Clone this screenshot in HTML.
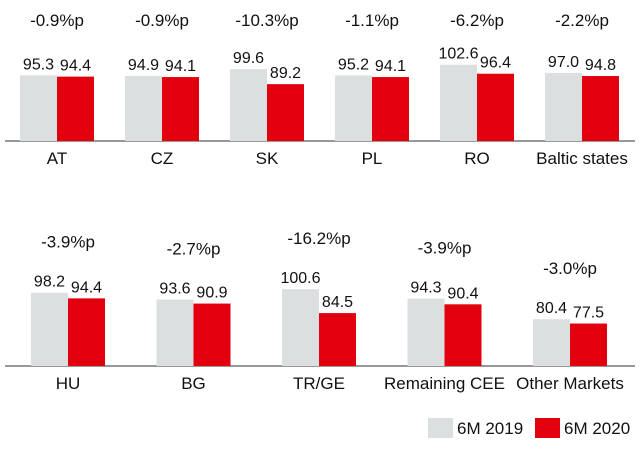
<!DOCTYPE html>
<html><head><meta charset="utf-8"><style>
body{margin:0;background:#fff;font-family:"Liberation Sans",sans-serif}
svg text{font-family:"Liberation Sans",sans-serif;fill:#111}
</style></head><body>
<svg id="c" width="640" height="447"></svg>
<script>
const topCats=["AT","CZ","SK","PL","RO","Baltic states"];
const top2019=[95.3,94.9,99.6,95.2,102.6,97.0];
const top2020=[94.4,94.1,89.2,94.1,96.4,94.8];
const topDelta=["-0.9%p","-0.9%p","-10.3%p","-1.1%p","-6.2%p","-2.2%p"];
const botCats=["HU","BG","TR/GE","Remaining CEE","Other Markets"];
const bot2019=[98.2,93.6,100.6,94.3,80.4];
const bot2020=[94.4,90.9,84.5,90.4,77.5];
const botDelta=["-3.9%p","-2.7%p","-16.2%p","-3.9%p","-3.0%p"];
const NS="http://www.w3.org/2000/svg",svg=document.getElementById('c');
function mk(t,a,txt){const e=document.createElementNS(NS,t);for(const k in a)e.setAttribute(k,a[k]);if(txt!==undefined)e.textContent=txt;svg.appendChild(e);return e;}
function row(cats,a,b,d,base,x0,step,min,scale,deltaFixed){
  const y=v=>base-(v-min)*scale;
  const l=mk('line',{x1:5,x2:635,y1:base,y2:base,stroke:'#777','stroke-width':1.5});
  
  cats.forEach((c,i)=>{
    const cx=x0+i*step;
    const g=mk('rect',{x:cx-37,y:y(a[i]),width:37,height:base-y(a[i]),fill:'#dcdfe0'});
    
    const r=mk('rect',{x:cx,y:y(b[i]),width:37,height:base-y(b[i]),fill:'#e2000f'});
    
    const t1=mk('text',{x:cx-18.5,y:y(a[i])-6,'text-anchor':'middle','font-size':16},a[i].toFixed(1));
    
    const t2=mk('text',{x:cx+18.5,y:y(b[i])-6,'text-anchor':'middle','font-size':16},b[i].toFixed(1));
    
    const dy=deltaFixed!==null?deltaFixed:y(Math.max(a[i],b[i]))-45;
    const t3=mk('text',{x:cx,y:dy,'text-anchor':'middle','font-size':17},d[i]);
    
    const t4=mk('text',{x:cx,y:base+23,'text-anchor':'middle','font-size':17},c);
    
  });
}
row(topCats,top2019,top2020,topDelta,141,57,105,50,1.45,26);
row(botCats,bot2019,bot2020,botDelta,366,68,125.5,49,1.49,null);
const lg=[['#dcdfe0','6M 2019',428],['#e2000f','6M 2020',535]];
lg.forEach(([col,txt,x])=>{
  const s=mk('rect',{x:x,y:418,width:25,height:20,fill:col});
  
  const t=mk('text',{x:x+29,y:434,'font-size':17},txt);
  
});
</script>
</body></html>
